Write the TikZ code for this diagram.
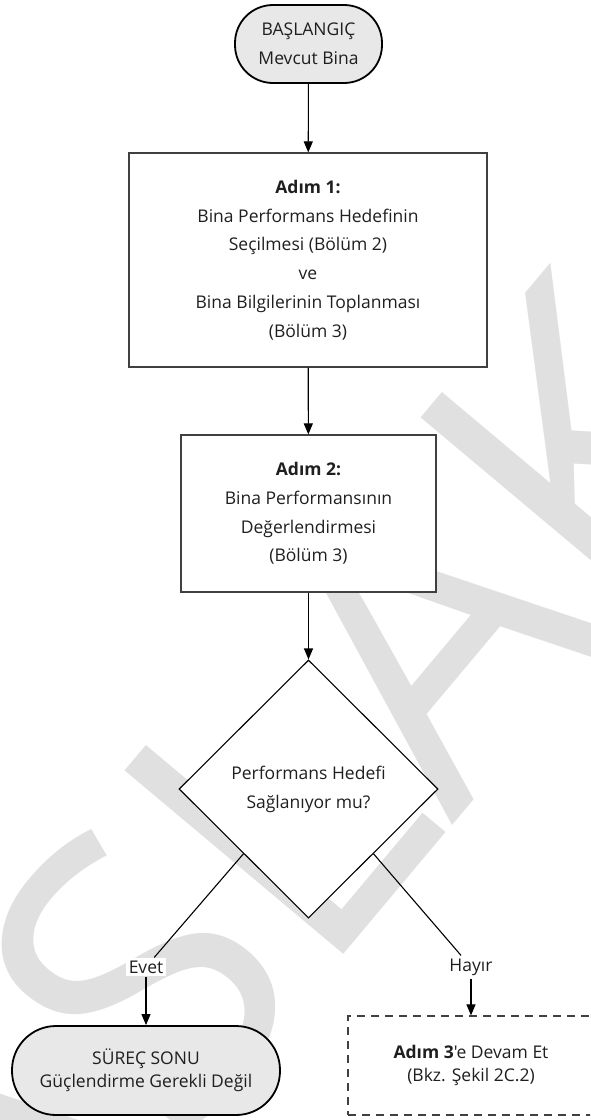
\documentclass[tikz,border=0pt]{standalone}
\usepackage{fontspec}
\setmainfont{Open Sans}[Ligatures=TeXOff]
\usetikzlibrary{shapes.geometric,arrows.meta}
\begin{document}
\begin{tikzpicture}[x=1pt,y=-1pt,
  txt/.style={font=\fontsize{17.5}{28.8}\selectfont, align=center, text=black!88, inner sep=0pt},
  term/.style={txt, draw=black, line width=1.8pt, fill=black!9},
  stepbox/.style={txt, draw=black!75, line width=1.2pt, fill=white},
  decide/.style={txt, diamond, aspect=1, draw=black, line width=1.1pt, fill=white},
  lbl/.style={txt, fill=white, inner sep=3pt},
  conn/.style={draw=black, line width=1.1pt},
  arr/.style={conn, -{Triangle[length=11pt,width=9pt]}},
  wmark/.style={text=black!12, font=\fontsize{400}{400}\selectfont, inner sep=0pt}
]
\useasboundingbox (0,0) rectangle (590,1120);
\clip (0,0) rectangle (590,1120);
\fill[white] (0,0) rectangle (590,1120);

% watermark
\node[wmark, rotate=50] (wm) at (222,878) {TASLAK};

% nodes
\node[term, rounded corners=38pt, minimum width=147pt, minimum height=78pt] (start) at (308.5,44) {BAŞLANGIÇ\\Mevcut Bina};
\node[stepbox, minimum width=358pt, minimum height=214pt] (s1) at (308,260)
  {\textbf{Adım 1:}\\Bina Performans Hedefinin\\Seçilmesi (Bölüm 2)\\ve\\Bina Bilgilerinin Toplanması\\(Bölüm 3)};
\node[stepbox, minimum width=255pt, minimum height=157pt] (s2) at (308.5,513.5)
  {\textbf{Adım 2:}\\Bina Performansının\\Değerlendirmesi\\(Bölüm 3)};
\node[decide, minimum width=259pt, minimum height=258pt] (dia) at (308.5,789)
  {Performans Hedefi\\Sağlanıyor mu?};
\node[lbl] (evet) at (146,967) {Evet};
\node[lbl] (hayir) at (471,967) {Hayır};
\node[term, font=\fontsize{17.5}{22.5}\selectfont, rounded corners=44pt, minimum width=268pt, minimum height=89pt] (end) at (146,1070.5)
  {SÜREÇ SONU\\Güçlendirme Gerekli Değil};
\node[txt, font=\fontsize{17.5}{22.5}\selectfont, draw=black!75, line width=1.2pt, dash pattern=on 8pt off 6pt, fill=white, minimum width=246pt, minimum height=99pt] (cont) at (471,1065.5)
  {\textbf{Adım 3}'e Devam Et\\(Bkz. Şekil 2C.2)};

% connectors
\draw[arr] (start) -- (s1);
\draw[arr] (s1) -- (s2);
\draw[arr] (s2) -- (dia);
\draw[conn] (dia.south west) -- (evet);
\draw[conn] (dia.south east) -- (hayir);
\draw[arr] (evet) -- (end);
\draw[arr] (hayir) -- (cont);
\end{tikzpicture}
\end{document}
